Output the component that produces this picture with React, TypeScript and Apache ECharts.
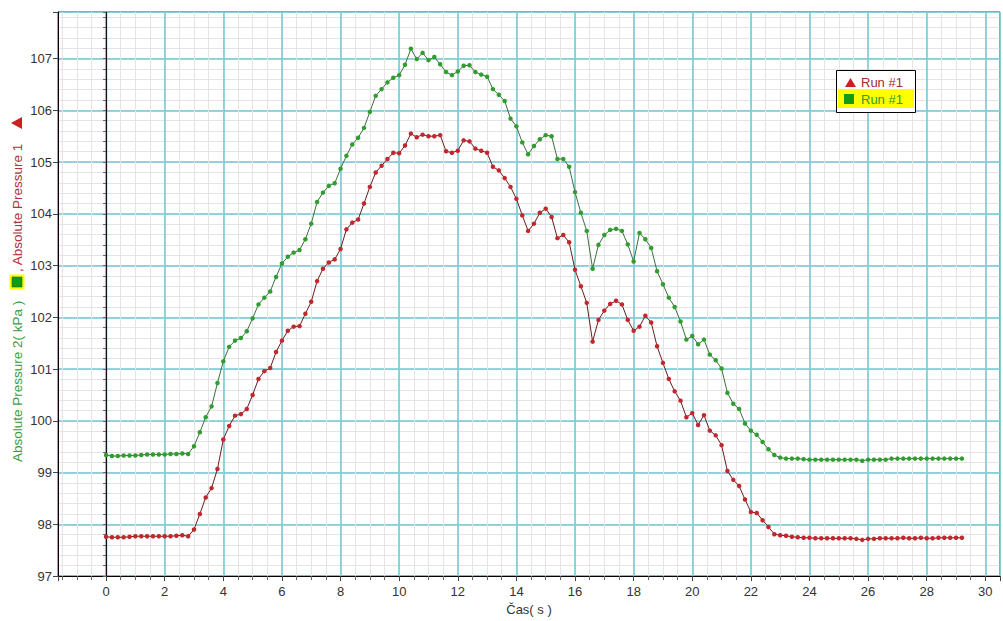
import { useEffect, useRef } from "react";
import * as echarts from "echarts";

// Sampling interval of the logger (s)
const SAMPLE_STEP = 0.2;

// Absolute Pressure 1 (kPa), red, one value every 0.2 s from t = 0
const pressure1: number[] = [
  97.76, 97.75, 97.75, 97.75, 97.76,
  97.77, 97.77, 97.77, 97.77, 97.77,
  97.77, 97.77, 97.78, 97.79, 97.77,
  97.90, 98.20, 98.52, 98.70, 99.07,
  99.64, 99.90, 100.10, 100.13, 100.23,
  100.50, 100.81, 100.96, 101.02, 101.33,
  101.55, 101.74, 101.82, 101.83, 102.07,
  102.30, 102.70, 102.94, 103.06, 103.12,
  103.32, 103.70, 103.83, 103.89, 104.20,
  104.52, 104.80, 104.93, 105.06, 105.18,
  105.17, 105.32, 105.55, 105.48, 105.53,
  105.50, 105.50, 105.52, 105.21, 105.18,
  105.22, 105.42, 105.40, 105.26, 105.22,
  105.18, 104.91, 104.84, 104.69, 104.52,
  104.29, 103.97, 103.67, 103.81, 104.02,
  104.10, 103.94, 103.53, 103.59, 103.45,
  102.92, 102.60, 102.28, 101.53, 101.95,
  102.13, 102.26, 102.32, 102.25, 101.95,
  101.74, 101.82, 102.03, 101.90, 101.44,
  101.12, 100.81, 100.57, 100.39, 100.07,
  100.15, 99.92, 100.11, 99.81, 99.72,
  99.53, 99.03, 98.86, 98.74, 98.48,
  98.24, 98.22, 98.08, 97.95, 97.81,
  97.79, 97.78, 97.76, 97.75, 97.74,
  97.74, 97.73, 97.73, 97.73, 97.73,
  97.73, 97.73, 97.73, 97.72, 97.70,
  97.72, 97.72, 97.73, 97.73, 97.73,
  97.73, 97.74, 97.73, 97.73, 97.74,
  97.73, 97.73, 97.74, 97.74, 97.74,
  97.74, 97.74,
];

// Absolute Pressure 2 (kPa), green, one value every 0.2 s from t = 0
const pressure2: number[] = [
  99.34, 99.32, 99.32, 99.33, 99.33,
  99.33, 99.34, 99.35, 99.35, 99.35,
  99.35, 99.36, 99.36, 99.37, 99.36,
  99.51, 99.78, 100.07, 100.28, 100.73,
  101.15, 101.43, 101.55, 101.60, 101.73,
  101.98, 102.25, 102.38, 102.50, 102.78,
  103.04, 103.17, 103.25, 103.30, 103.51,
  103.81, 104.23, 104.41, 104.54, 104.59,
  104.87, 105.12, 105.34, 105.47, 105.66,
  105.97, 106.28, 106.41, 106.54, 106.63,
  106.68, 106.88, 107.19, 106.99, 107.11,
  106.97, 107.03, 106.89, 106.74, 106.68,
  106.75, 106.86, 106.87, 106.74, 106.69,
  106.65, 106.41, 106.30, 106.18, 105.84,
  105.69, 105.38, 105.15, 105.31, 105.44,
  105.52, 105.50, 105.06, 105.06, 104.91,
  104.42, 104.02, 103.67, 102.94, 103.40,
  103.59, 103.69, 103.71, 103.67, 103.41,
  103.08, 103.63, 103.51, 103.34, 102.89,
  102.64, 102.38, 102.20, 101.92, 101.57,
  101.64, 101.48, 101.57, 101.28, 101.17,
  101.01, 100.54, 100.33, 100.23, 99.95,
  99.81, 99.73, 99.59, 99.45, 99.34,
  99.29, 99.27, 99.27, 99.27, 99.26,
  99.25, 99.25, 99.25, 99.25, 99.25,
  99.25, 99.25, 99.25, 99.25, 99.23,
  99.25, 99.25, 99.25, 99.25, 99.27,
  99.27, 99.27, 99.27, 99.27, 99.27,
  99.27, 99.27, 99.27, 99.27, 99.27,
  99.27, 99.27,
];

const X_MIN = -1.64;
const X_MAX = 30.5;
const Y_MIN = 97;
const Y_MAX = 107.9;

const legendLabels = ["Run #1", "Run #1"];
const yTitleParts = ["Absolute Pressure 2( kPa )", ", Absolute Pressure 1"];
const xTitle = "Čas( s )";

const FONT = 'Arial, "Liberation Sans", sans-serif';

export default function App() {
  const ref = useRef<HTMLDivElement>(null);

  useEffect(() => {
    document.body.style.margin = "0";
    const chart = echarts.init(ref.current!, null, { renderer: "svg" });
    const times = pressure1.map((_, i) => Math.round(i * SAMPLE_STEP * 10) / 10);
    const red = times.map((t, i) => [t, pressure1[i]]);
    const green = times.map((t, i) => [t, pressure2[i]]);

    const isEven = (v: number) =>
      Math.abs(v - Math.round(v)) < 1e-6 && Math.round(v) % 2 === 0;
    const isInt = (v: number) => Math.abs(v - Math.round(v)) < 1e-6;

    const textStyle = (text: string, fill: string, size: number) => ({
      text,
      fill,
      font: `${size}px ${FONT}`,
      align: "left",
      verticalAlign: "middle",
      textAlign: "left",
      textVerticalAlign: "middle",
    });

    const option: any = {
      animation: false,
      backgroundColor: "#fff",
      grid: {
        left: 58,
        top: 12,
        right: 2.4,
        bottom: 39,
        show: true,
        backgroundColor: "#fff",
        borderColor: "#000",
        borderWidth: 1,
      },
      xAxis: [
        {
          type: "value",
          min: X_MIN,
          max: X_MAX,
          splitNumber: 64,
          position: "bottom",
          axisLine: { show: false },
          axisLabel: { show: false },
          axisTick: { show: true, length: 4, lineStyle: { color: "#666" } },
          splitLine: { show: true, lineStyle: { color: "#e4e4e4", width: 1 } },
        },
        {
          type: "value",
          min: X_MIN,
          max: X_MAX,
          splitNumber: 16,
          position: "bottom",
          axisLine: { show: true, onZero: false, lineStyle: { color: "#000", width: 1 } },
          axisTick: { show: true, length: 5, lineStyle: { color: "#444" } },
          axisLabel: {
            color: "#333",
            fontSize: 13,
            fontFamily: FONT,
            margin: 9,
            formatter: (v: number) => (isEven(v) ? String(Math.round(v)) : ""),
          },
          splitLine: { show: true, lineStyle: { color: "#70c9d2", width: 1.5 } },
          name: xTitle,
          nameLocation: "middle",
          nameGap: 26,
          nameTextStyle: { color: "#333", fontSize: 13, fontFamily: FONT },
        },
      ],
      yAxis: [
        {
          type: "value",
          min: Y_MIN,
          max: Y_MAX,
          splitNumber: 54,
          position: "left",
          axisLine: { show: false },
          axisLabel: { show: false },
          axisTick: { show: true, length: 3, lineStyle: { color: "#666" } },
          splitLine: { show: true, lineStyle: { color: "#e4e4e4", width: 1 } },
        },
        {
          type: "value",
          min: Y_MIN,
          max: Y_MAX,
          interval: 1,
          position: "left",
          axisLine: { show: true, onZero: false, lineStyle: { color: "#000", width: 1 } },
          axisTick: { show: true, length: 5, lineStyle: { color: "#444" } },
          axisLabel: {
            color: "#333",
            fontSize: 13,
            fontFamily: FONT,
            margin: 6,
            formatter: (v: number) => (isInt(v) ? String(Math.round(v)) : ""),
          },
          splitLine: { show: true, lineStyle: { color: "#70c9d2", width: 1.5 } },
        },
      ],
      series: [
        {
          type: "line",
          name: "Absolute Pressure 2",
          xAxisIndex: 1,
          yAxisIndex: 1,
          data: green,
          symbol: "circle",
          symbolSize: 4.5,
          showAllSymbol: true,
          itemStyle: { color: "#2f9e2f" },
          lineStyle: { color: "#3e6e3e", width: 1 },
          z: 3,
          markLine: {
            silent: true,
            symbol: ["none", "none"],
            label: { show: false },
            lineStyle: { color: "#111", type: "solid", width: 1.2 },
            data: [{ xAxis: 0 }],
            z: 1,
          },
        },
        {
          type: "line",
          name: "Absolute Pressure 1",
          xAxisIndex: 1,
          yAxisIndex: 1,
          data: red,
          symbol: "circle",
          symbolSize: 4.5,
          showAllSymbol: true,
          itemStyle: { color: "#c1272d" },
          lineStyle: { color: "#6a1c1c", width: 1 },
          z: 3,
        },
      ],
      graphic: [
        // y-axis title
        {
          type: "text",
          z: 100,
          x: 17,
          y: 462,
          rotation: Math.PI / 2,
          style: textStyle(yTitleParts[0], "#3e9a3e", 13.5),
        },
        { type: "rect", z: 100, shape: { x: 9.5, y: 274.5, width: 15, height: 15 }, style: { fill: "#ffff00" } },
        { type: "rect", z: 101, shape: { x: 12, y: 277, width: 10, height: 10 }, style: { fill: "#159a15", stroke: "#0e6e0e", lineWidth: 0.6 } },
        {
          type: "text",
          z: 100,
          x: 17,
          y: 272,
          rotation: Math.PI / 2,
          style: textStyle(yTitleParts[1], "#b03035", 13.5),
        },
        {
          type: "polygon",
          z: 100,
          shape: { points: [[11, 123], [22, 117], [22, 129]] },
          style: { fill: "#cc1f1f" },
        },
        // legend box
        {
          type: "rect",
          z: 100,
          shape: { x: 836.5, y: 70.5, width: 79, height: 42 },
          style: { fill: "#fff", stroke: "#000", lineWidth: 1 },
        },
        { type: "rect", z: 101, shape: { x: 838, y: 89, width: 76, height: 19 }, style: { fill: "#ffff00" } },
        {
          type: "polygon",
          z: 102,
          shape: { points: [[845, 87], [850.5, 78], [856, 87]] },
          style: { fill: "#cc1f1f" },
        },
        {
          type: "text",
          z: 102,
          x: 861,
          y: 82.5,
          style: textStyle(legendLabels[0], "#a8282d", 13),
        },
        { type: "rect", z: 102, shape: { x: 844, y: 94, width: 10, height: 10 }, style: { fill: "#159a15" } },
        {
          type: "text",
          z: 102,
          x: 861,
          y: 99,
          style: textStyle(legendLabels[1], "#2f9a2f", 13),
        },
      ],
    };

    chart.setOption(option);
    return () => chart.dispose();
  }, []);

  return <div ref={ref} style={{ width: 1003, height: 621 }} />;
}
